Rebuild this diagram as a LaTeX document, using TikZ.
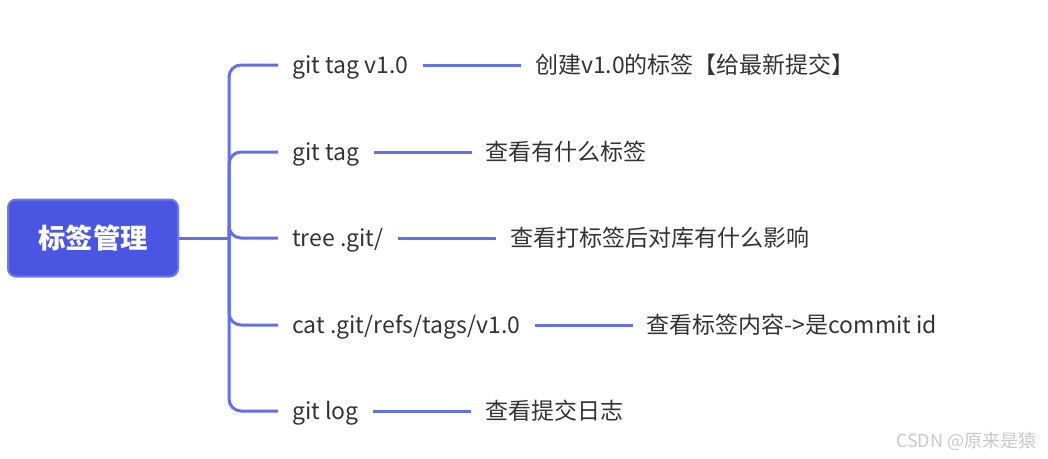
\documentclass[tikz,border=0pt]{standalone}
\usepackage{fontspec}
\setmainfont{Noto Sans CJK SC}
\usetikzlibrary{positioning}

\definecolor{rootblue}{HTML}{4A55E2}
\definecolor{rootedge}{HTML}{6E78EB}
\definecolor{branchblue}{HTML}{6470E6}
\definecolor{txtgray}{HTML}{333333}
\definecolor{markgray}{HTML}{C8C8C8}

\begin{document}
\begin{tikzpicture}[x=0.75pt, y=-0.75pt,
    rootbox/.style={draw=rootedge, line width=1.5pt, fill=rootblue, rounded corners=6pt,
      minimum width=127.5pt, minimum height=57.75pt, text=white, font=\fontsize{20.5}{24}\selectfont\bfseries},
    cmd/.style={inner xsep=10.5pt, inner ysep=0pt, text=txtgray, anchor=west,
      font=\fontsize{17.25}{20}\selectfont, text height=1.25em, text depth=0pt},
    note/.style={cmd, right=73.5pt of #1},
    branch/.style={draw=branchblue, line width=2.25pt, rounded corners=9pt}]
  \useasboundingbox (0,0) rectangle (1048,458);

  \node[rootbox] (root) at (93,238) {标签管理};
  \coordinate (hub) at (229,238);

  % commands
  \node[cmd] (tagv) at (278,65) {git tag v1.0};
  \node[cmd] (tag) at (278,152) {git tag};
  \node[cmd] (tree) at (278,238) {tree .git/};
  \node[cmd] (cat) at (278,325) {cat .git/refs/tags/v1.0};
  \node[cmd] (log) at (278,411) {git log};

  % what they do
  \node[note=tagv] (tagvnote) {创建v1.0的标签【给最新提交】};
  \node[note=tag] (tagnote) {查看有什么标签};
  \node[note=tree] (treenote) {查看打标签后对库有什么影响};
  \node[note=cat] (catnote) {查看标签内容->是commit id};
  \node[note=log] (lognote) {查看提交日志};

  \draw[branch] (root) -- (hub);
  \foreach \c in {tagv,tag,tree,cat,log}
    \draw[branch] (hub) |- (\c.west);
  \foreach \c in {tagv,tag,tree,cat,log}
    \draw[branch] (\c.east) -- (\c note.west);

  \node[text=markgray, font=\fontsize{13.5}{16}\selectfont, anchor=east] (mark) at (1041,441) {CSDN @原来是猿};
\end{tikzpicture}
\end{document}
